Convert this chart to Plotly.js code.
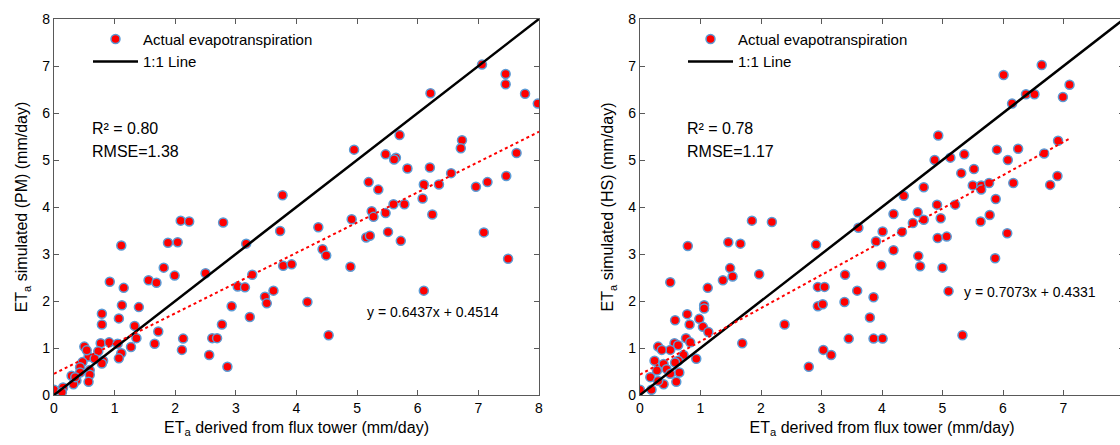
<!DOCTYPE html>
<html><head><meta charset="utf-8">
<script src="https://cdn.plot.ly/plotly-3.0.1.min.js"></script>
<style>html,body{margin:0;padding:0;overflow:hidden;background:#fff}</style>
</head><body><div id="chart" style="width:1130px;height:445px"></div>
<script>
const pmX=[7.06,7.45,7.45,6.21,7.77,7.98,5.70,6.73,6.71,4.95,5.47,5.64,5.61,7.63,5.83,6.20,6.55,5.19,5.35,6.10,6.35,6.96,7.15,7.46,3.77,6.08,5.60,5.78,5.24,5.27,5.47,6.24,4.91,2.09,2.23,2.79,4.36,3.73,5.51,7.09,5.15,5.21,5.72,1.11,3.17,1.88,2.04,4.43,4.49,3.78,3.92,4.89,7.49,1.81,1.99,2.50,3.27,1.56,1.69,0.92,1.15,3.03,3.15,3.62,6.10,3.48,3.51,4.18,1.12,1.40,2.93,0.79,0.79,1.07,3.23,1.33,2.77,1.72,2.61,2.69,4.53,1.36,2.13,0.77,0.91,1.05,1.66,1.27,0.50,2.11,1.11,1.07,2.56,2.86,0.73,0.57,0.81,0.47,0.79,0.43,0.59,0.59,0.57,0.29,0.37,0.32,0.15,0.00,0.13,0.43,0.54,0.67,0.35];
const pmY=[7.03,6.83,6.61,6.42,6.41,6.20,5.53,5.42,5.25,5.22,5.12,5.05,5.01,5.15,4.82,4.84,4.72,4.53,4.37,4.48,4.48,4.43,4.53,4.66,4.25,4.18,4.06,4.06,3.91,3.79,3.87,3.84,3.74,3.71,3.69,3.67,3.57,3.49,3.47,3.46,3.35,3.39,3.28,3.18,3.22,3.24,3.25,3.10,2.97,2.75,2.78,2.73,2.90,2.71,2.54,2.59,2.56,2.44,2.39,2.41,2.28,2.31,2.29,2.22,2.22,2.09,1.95,1.98,1.91,1.87,1.89,1.73,1.50,1.63,1.66,1.47,1.50,1.35,1.21,1.21,1.27,1.21,1.20,1.10,1.12,1.09,1.09,1.02,1.03,0.96,0.89,0.78,0.85,0.60,0.93,0.82,0.73,0.70,0.67,0.59,0.53,0.43,0.28,0.41,0.31,0.23,0.16,0.11,0.06,0.48,0.95,0.77,0.38];
const hsX=[6.64,6.01,7.10,6.15,6.38,6.52,6.99,4.93,6.91,5.90,6.25,6.68,4.87,5.13,5.36,6.08,5.52,5.31,6.90,5.50,5.64,5.64,5.77,6.17,6.78,4.69,4.36,5.88,4.91,5.21,4.19,4.59,5.78,4.97,4.69,4.51,5.63,1.85,2.18,3.61,4.01,4.33,6.07,4.92,5.07,3.90,0.79,1.46,1.66,2.91,4.19,4.60,4.63,3.99,5.00,5.87,1.49,1.53,1.97,3.39,0.50,1.37,1.12,2.94,3.05,3.59,5.10,3.86,3.38,2.94,3.02,1.06,1.06,0.78,0.58,0.82,0.98,1.04,1.13,2.39,3.80,1.69,3.45,3.86,4.01,5.33,3.03,3.16,2.79,0.76,0.57,0.30,0.83,0.93,0.63,0.50,0.36,0.72,0.63,0.24,0.39,0.58,0.44,0.65,0.28,0.60,0.39,0.17,0.19,0.00,0.50,0.30];
const hsY=[7.02,6.81,6.60,6.20,6.40,6.40,6.34,5.52,5.41,5.22,5.24,5.14,5.00,5.05,5.12,5.00,4.81,4.72,4.66,4.46,4.46,4.37,4.51,4.51,4.47,4.42,4.24,4.17,4.05,4.05,3.85,3.89,3.83,3.76,3.73,3.66,3.69,3.71,3.68,3.56,3.48,3.47,3.44,3.34,3.37,3.27,3.17,3.25,3.22,3.20,3.08,2.96,2.74,2.76,2.71,2.91,2.70,2.52,2.57,2.56,2.40,2.44,2.28,2.30,2.30,2.22,2.21,2.08,1.98,1.89,1.93,1.91,1.84,1.72,1.59,1.50,1.62,1.45,1.34,1.50,1.65,1.10,1.20,1.20,1.20,1.27,0.96,0.85,0.60,1.21,1.10,1.03,1.12,0.77,1.06,0.96,0.96,0.85,0.73,0.73,0.66,0.69,0.55,0.48,0.52,0.28,0.23,0.38,0.11,0.11,0.45,0.30];
const oneX=[0,8], oneY=[0,8];
const pmFit={slope:0.6437,icpt:0.4514,x:[0,8]};
const hsFit={slope:0.7073,icpt:0.4331,x:[0,7.1]};

const W=1130;
const mk={color:'#ff0000',size:9,line:{color:'#5b9bd5',width:1.5}};
function fitY(f){return f.x.map(v=>f.slope*v+f.icpt);}
const traces=[
 {x:pmX,y:pmY,mode:'markers',type:'scatter',marker:mk,name:'Actual evapotranspiration',xaxis:'x',yaxis:'y',legend:'legend'},
 {x:oneX,y:oneY,mode:'lines',line:{color:'#000',width:2.5},name:'1:1 Line',xaxis:'x',yaxis:'y',legend:'legend'},
 {x:pmFit.x,y:fitY(pmFit),mode:'lines',line:{color:'#ff0000',width:2,dash:'dot'},showlegend:false,xaxis:'x',yaxis:'y'},
 {x:hsX,y:hsY,mode:'markers',type:'scatter',marker:mk,name:'Actual evapotranspiration',xaxis:'x2',yaxis:'y2',legend:'legend2'},
 {x:oneX,y:oneY,mode:'lines',line:{color:'#000',width:2.5},name:'1:1 Line',xaxis:'x2',yaxis:'y2',legend:'legend2'},
 {x:hsFit.x,y:fitY(hsFit),mode:'lines',line:{color:'#ff0000',width:2,dash:'dot'},showlegend:false,xaxis:'x2',yaxis:'y2'}
];
const ax={range:[0,8],dtick:1,showgrid:false,zeroline:false,showline:true,mirror:'ticks',linecolor:'#595959',linewidth:1.2,ticks:'inside',ticklen:5,tickcolor:'#595959',tickfont:{family:'Liberation Sans, Arial',size:14,color:'#000'}};
const tf={family:'Liberation Sans, Arial',size:16,color:'#000'};
const lg={xanchor:'left',yanchor:'top',bgcolor:'rgba(0,0,0,0)',font:{size:15,color:'#000'},tracegroupgap:0,itemwidth:45};
const layout={
 width:W,height:445,margin:{l:0,r:0,t:19,b:50},paper_bgcolor:'#fff',plot_bgcolor:'#fff',
 font:{family:'Liberation Sans, Arial',color:'#000'},
 xaxis:Object.assign({},ax,{domain:[54/W,539/W],anchor:'y',title:{text:'ET<sub>a</sub> derived from flux tower (mm/day)',font:tf,standoff:6}}),
 yaxis:Object.assign({},ax,{domain:[0,1],anchor:'x',title:{text:'ET<sub>a</sub> simulated (PM) (mm/day)',font:tf,standoff:10}}),
 xaxis2:Object.assign({},ax,{domain:[640/W,1124/W],anchor:'y2',title:{text:'ET<sub>a</sub> derived from flux tower (mm/day)',font:tf,standoff:6}}),
 yaxis2:Object.assign({},ax,{domain:[0,1],anchor:'x2',title:{text:'ET<sub>a</sub> simulated (HS) (mm/day)',font:tf,standoff:10}}),
 legend:Object.assign({x:88/W,y:0.99},lg),
 legend2:Object.assign({x:683/W,y:0.99},lg),
 annotations:[
  {xref:'paper',yref:'paper',x:90/W,y:1-(118-19)/376,text:'R² = 0.80',showarrow:false,xanchor:'left',font:{size:16}},
  {xref:'paper',yref:'paper',x:90/W,y:1-(141-19)/376,text:'RMSE=1.38',showarrow:false,xanchor:'left',font:{size:16}},
  {xref:'paper',yref:'paper',x:365/W,y:1-(322-19)/376,text:'y = 0.6437x + 0.4514',showarrow:false,xanchor:'left',font:{size:14}},
  {xref:'paper',yref:'paper',x:685/W,y:1-(118-19)/376,text:'R² = 0.78',showarrow:false,xanchor:'left',font:{size:16}},
  {xref:'paper',yref:'paper',x:685/W,y:1-(141-19)/376,text:'RMSE=1.17',showarrow:false,xanchor:'left',font:{size:16}},
  {xref:'paper',yref:'paper',x:962/W,y:1-(302-19)/376,text:'y = 0.7073x + 0.4331',showarrow:false,xanchor:'left',font:{size:14}}
 ]
};
Plotly.newPlot('chart',traces,layout,{displayModeBar:false,staticPlot:true});
</script></body></html>
